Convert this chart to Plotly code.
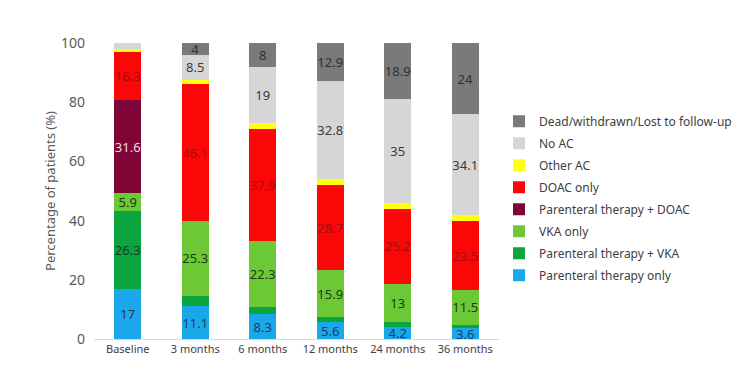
import plotly.graph_objects as go

categories = ["Baseline", "3 months", "6 months", "12 months", "24 months", "36 months"]

parenteral_only = [17, 11.1, 8.3, 5.6, 4.2, 3.6]
parenteral_vka = [26.3, 3.5, 2.5, 1.8, 1.5, 1.3]
vka_only = [5.9, 25.3, 22.3, 15.9, 13, 11.5]
parenteral_doac = [31.6, 0, 0, 0, 0, 0]
doac_only = [16.3, 46.1, 37.9, 28.7, 25.2, 23.5]
other_ac = [0.9, 1.5, 2.0, 2.2, 2.2, 2.0]
no_ac = [2.0, 8.5, 19, 32.8, 35, 34.1]
dead = [0, 4, 8, 12.9, 18.9, 24]

series = [
    ("Parenteral therapy only", parenteral_only, "#1aa8ea", "#1c3c66"),
    ("Parenteral therapy + VKA", parenteral_vka, "#0ca43e", "#143c1c"),
    ("VKA only", vka_only, "#6cc935", "#1e3a14"),
    ("Parenteral therapy + DOAC", parenteral_doac, "#7d0636", "#f4d8e6"),
    ("DOAC only", doac_only, "#fb0707", "#a01010"),
    ("Other AC", other_ac, "#ffff10", "#333333"),
    ("No AC", no_ac, "#d6d6d6", "#3a3a3a"),
    ("Dead/withdrawn/Lost to follow-up", dead, "#7a7a7a", "#303030"),
]

fig = go.Figure()
n = len(series)
for i, (name, vals, color, tcolor) in enumerate(series):
    labels = [f"{v:g}" if v >= 3.6 else "" for v in vals]
    fig.add_trace(go.Bar(
        name=name, x=categories, y=vals, text=labels,
        textposition="inside", insidetextanchor="middle", textangle=0,
        constraintext="none", cliponaxis=False,
        textfont=dict(size=13, color=tcolor, family="Noto Sans"),
        marker=dict(color=color, line=dict(width=0)),
        legendgroup=name, legendrank=1000 + (n - i),
    ))

fig.update_layout(
    barmode="stack",
    bargap=0.6,
    width=750, height=384,
    margin=dict(l=86, r=259, t=35, b=53),
    paper_bgcolor="white", plot_bgcolor="white",
    font=dict(family="Noto Sans", size=12, color="#595959"),
    legend=dict(
        traceorder="grouped", x=1.0, xanchor="left", y=0.785, yanchor="top",
        font=dict(size=12, color="#404040"), tracegroupgap=3,
        itemwidth=30,
    ),
    xaxis=dict(showline=True, linecolor="#d9d9d9", linewidth=1, ticks="",
               tickfont=dict(size=11, color="#404040")),
    yaxis=dict(range=[0, 100], dtick=20, showgrid=False, zeroline=False,
               tickfont=dict(size=14, color="#595959"), ticklabelstandoff=8,
               title=dict(text="Percentage of patients (%)", font=dict(size=13, color="#595959"), standoff=2)),
)

fig.write_html("out.html")
